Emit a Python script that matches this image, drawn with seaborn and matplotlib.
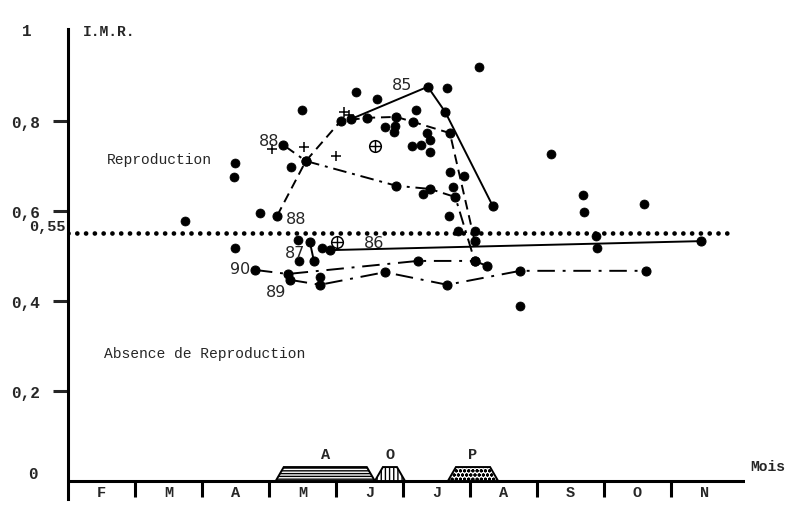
import numpy as np
import pandas as pd
import matplotlib
matplotlib.use("Agg")
import matplotlib.pyplot as plt
import seaborn as sns

# ---------------- data ----------------
months = ["F", "M", "A", "M", "J", "J", "A", "S", "O", "N"]
y_ticks = [0.2, 0.4, 0.6, 0.8]
y_tick_labels = ["0,2", "0,4", "0,6", "0,8"]
threshold = 0.55

s85_x = [4.22, 5.37, 5.63, 6.34]
s85_y = [0.804, 0.876, 0.820, 0.611]

s88a_x = [3.12, 3.55, 4.07, 4.46, 4.90, 5.15, 5.70, 6.07]
s88a_y = [0.589, 0.711, 0.800, 0.807, 0.809, 0.798, 0.773, 0.533]

s88b_x = [3.21, 3.55, 4.90, 5.40, 5.78, 6.07]
s88b_y = [0.747, 0.711, 0.656, 0.649, 0.631, 0.489]

s87_x = [3.61, 3.67]
s87_y = [0.531, 0.489]

s86_x = [3.91, 9.45]
s86_y = [0.513, 0.533]

s90_x = [2.79, 3.28, 5.22, 6.07, 6.25]
s90_y = [0.469, 0.460, 0.489, 0.489, 0.478]

s89_x = [3.31, 3.76, 4.73, 5.66, 6.75, 8.63]
s89_y = [0.447, 0.436, 0.464, 0.436, 0.467, 0.467]

dots_x = [1.75, 2.49, 2.48, 2.49, 2.87, 3.33, 3.49, 4.30, 4.61, 5.19, 5.66, 4.73,
          4.88, 4.87, 5.36, 5.40, 5.13, 5.27, 5.40, 5.30, 5.70, 5.91, 5.75, 5.69,
          5.82, 6.07, 3.43, 3.45, 3.79, 3.76, 6.13, 7.21, 7.69, 7.70, 7.88, 7.90,
          8.60, 6.75]
dots_y = [0.578, 0.707, 0.676, 0.518, 0.596, 0.698, 0.824, 0.864, 0.849, 0.824, 0.873, 0.787,
          0.789, 0.776, 0.773, 0.758, 0.744, 0.747, 0.731, 0.638, 0.687, 0.678, 0.653, 0.589,
          0.556, 0.556, 0.536, 0.489, 0.518, 0.453, 0.920, 0.727, 0.636, 0.598, 0.544, 0.518,
          0.616, 0.389]

plus_x = [3.04, 3.52, 4.00, 4.12, 4.19]
plus_y = [0.738, 0.742, 0.722, 0.820, 0.813]

oplus_x = [4.58, 4.01]
oplus_y = [0.744, 0.531]

period_labels = ["A", "O", "P"]
period_start = [3.10, 4.58, 5.67]
period_end = [4.58, 5.03, 6.42]
period_hatch = ["------", "||||", "oooo"]

series_labels = ["85", "88", "88", "87", "86", "90", "89"]
series_label_x = [4.84, 2.85, 3.25, 3.24, 4.42, 2.42, 2.95]
series_label_y = [0.757 + 0.125, 0.757, 0.584, 0.508, 0.530, 0.473, 0.422]

# ---------------- figure ----------------
sns.set_theme(style="white")
plt.rcParams["font.family"] = ["Liberation Mono", "DejaVu Sans Mono"]

fig = plt.figure(figsize=(7.88, 5.06), dpi=100)
ax = fig.add_axes([68 / 788, 6 / 506, 677 / 788, 470.3 / 506])
ax.set_xlim(0, 677 / 67)
ax.set_ylim(-0.04, 1.005)

lw = 1.4
ms = 6.5
line_specs = [
    (s85_x, s85_y, "-"),
    (s88a_x, s88a_y, (0, (5, 3))),
    (s88b_x, s88b_y, (0, (7, 3, 1.5, 3))),
    (s87_x, s87_y, "-"),
    (s86_x, s86_y, "-"),
    (s90_x, s90_y, (0, (9, 4, 1.5, 4))),
    (s89_x, s89_y, (0, (9, 4, 1.5, 4))),
]
for xs, ys, ls in line_specs:
    df = pd.DataFrame({"x": xs, "y": ys})
    sns.lineplot(data=df, x="x", y="y", ax=ax, color="black", linestyle=ls,
                 linewidth=lw, marker="o", markersize=ms, markeredgecolor="black",
                 sort=False, estimator=None)

sns.scatterplot(x=dots_x, y=dots_y, ax=ax, color="black", s=42, edgecolor="black",
                linewidth=0.5)
ax.scatter(plus_x, plus_y, marker="+", s=55, color="black", linewidths=1.1)
ax.scatter(oplus_x, oplus_y, marker="o", s=70, facecolor="white", edgecolor="black",
           linewidths=1.1, zorder=3)
ax.scatter(oplus_x, oplus_y, marker="+", s=70, color="black", linewidths=1.0, zorder=4)

# threshold dotted line
ax.plot([0, 667 / 67], [threshold, threshold], color="black", linestyle=(0, (0.01, 1.85)),
        linewidth=3.4, dash_capstyle="round", solid_capstyle="round")

# x axis line and month ticks
ax.axhline(0, color="black", linewidth=2.2, zorder=2)
for i in range(1, 10):
    ax.plot([i, i], [0, -0.035], color="black", linewidth=2.2, solid_capstyle="butt")
for i, m in enumerate(months):
    ax.text(i + 0.5, -0.025, m, ha="center", va="center", fontsize=11,
            fontweight="bold")

# reproductive periods
h = 0.031
for lab, x0, x1, hat in zip(period_labels, period_start, period_end, period_hatch):
    inset = 0.12
    xs = [x0, x0 + inset, x1 - inset, x1]
    ys = [0, h, h, 0]
    ax.fill(xs, ys, facecolor="white", edgecolor="black", hatch=hat, linewidth=1.4,
            zorder=3)
    ax.text((x0 + x1) / 2, h + 0.03, lab, ha="center", va="center", fontsize=11,
            fontweight="bold")

# spines & ticks
for sp in ["top", "right", "bottom"]:
    ax.spines[sp].set_visible(False)
ax.spines["left"].set_linewidth(2.2)
ax.spines["left"].set_color("black")
ax.set_xticks([])
ax.set_yticks(y_ticks)
ax.set_yticklabels(y_tick_labels, fontsize=11.5, fontweight="bold")
ax.tick_params(axis="y", direction="out", length=11, width=2.2, pad=9, left=True)
ax.set_xlabel("")
ax.set_ylabel("")

ax.text(-0.62, 1.0, "1", ha="center", va="center", fontsize=11.5, fontweight="bold")
ax.text(-0.52, 0.016, "0", ha="center", va="center", fontsize=11.5, fontweight="bold")
ax.text(-0.03, threshold + 0.017, "0,55", ha="right", va="center", fontsize=11,
        fontweight="bold")

ax.text(0.22, 1.0, "I.M.R.", ha="left", va="center", fontsize=10.5, fontweight="bold")
ax.text(0.58, 0.716, "Reproduction", ha="left", va="center", fontsize=10.5)
ax.text(0.53, 0.284, "Absence de Reproduction", ha="left", va="center", fontsize=10.5)
ax.text(10.18, 0.033, "Mois", ha="left", va="center", fontsize=10.5, fontweight="bold",
        clip_on=False)

for lab, lx, ly in zip(series_labels, series_label_x, series_label_y):
    ax.text(lx, ly, lab, ha="left", va="center", fontsize=11.5,
            family=["DejaVu Sans"])

fig.savefig("out.png", dpi=100, facecolor="white")
